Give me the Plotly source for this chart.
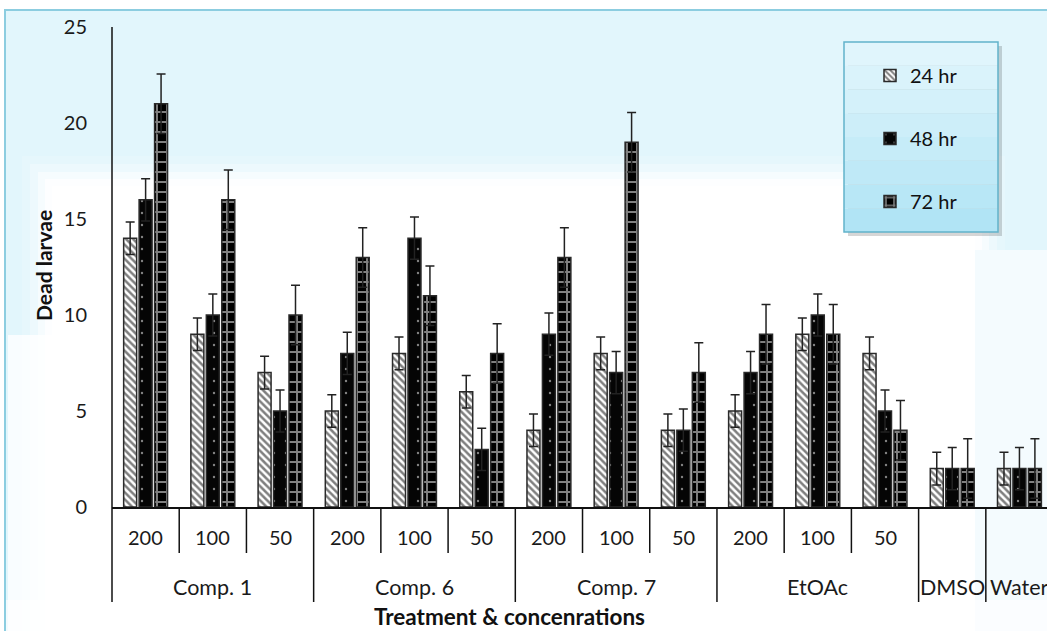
import plotly.graph_objects as go

# ---------------- data ----------------
categories = ["Comp. 1 200", "Comp. 1 100", "Comp. 1 50",
              "Comp. 6 200", "Comp. 6 100", "Comp. 6 50",
              "Comp. 7 200", "Comp. 7 100", "Comp. 7 50",
              "EtOAc 200", "EtOAc 100", "EtOAc 50",
              "DMSO", "Water"]
conc_labels = ["200", "100", "50", "200", "100", "50",
               "200", "100", "50", "200", "100", "50", "", ""]
group_labels = ["Comp. 1", "Comp. 6", "Comp. 7", "EtOAc", "DMSO", "Water"]
group_sizes = [3, 3, 3, 3, 1, 1]

series_names = ["24 hr", "48 hr", "72 hr"]
hr24 = [14, 9, 7, 5, 8, 6, 4, 8, 4, 5, 9, 8, 2, 2]
hr48 = [16, 10, 5, 8, 14, 3, 9, 7, 4, 7, 10, 5, 2, 2]
hr72 = [21, 16, 10, 13, 11, 8, 13, 19, 7, 9, 9, 4, 2, 2]
err24 = [0.85, 0.85, 0.85, 0.85, 0.85, 0.85, 0.85, 0.85, 0.85, 0.85, 0.85, 0.85, 0.85, 0.85]
err48 = [1.1, 1.1, 1.1, 1.1, 1.1, 1.1, 1.1, 1.1, 1.1, 1.1, 1.1, 1.1, 1.1, 1.1]
err72 = [1.55, 1.55, 1.55, 1.55, 1.55, 1.55, 1.55, 1.55, 1.55, 1.55, 1.55, 1.55, 1.55, 1.55]

y_ticks = [0, 5, 10, 15, 20, 25]
x_title = "Treatment & concenrations"
y_title = "Dead larvae"

# ---------------- layout geometry (pixels) ----------------
W, H = 1047, 631
L, T = 112, 27
PLOT_W, PLOT_H = W - L, 480
B = H - T - PLOT_H
FONT = "Lato, Calibri, Carlito, sans-serif"


def px(xp):
    return (xp - L) / PLOT_W


def py(yp):
    return (T + PLOT_H - yp) / PLOT_H


fig = go.Figure()

patterns = [
    dict(shape="\\", fgcolor="#000000", bgcolor="white", size=5, solidity=0.5),
    dict(shape=".", fgcolor="white", bgcolor="#050505", size=12, solidity=0.03),
    dict(shape="+", fgcolor="white", bgcolor="#000000", size=10, solidity=0.35),
]
for name, vals, errs, pat in zip(series_names, [hr24, hr48, hr72],
                                 [err24, err48, err72], patterns):
    fig.add_trace(go.Bar(
        x=categories, y=vals, name=name, legendgroup=name,
        marker=dict(pattern=pat, line=dict(color="#2a2a2a", width=1.5)),
        error_y=dict(type="data", array=errs, symmetric=True,
                     color="#222222", thickness=1.5, width=4.5),
    ))

shapes = []
# background frame
shapes.append(dict(type="rect", xref="paper", yref="paper", layer="below",
                   x0=px(5), x1=px(1060), y0=py(10), y1=py(650),
                   fillcolor="#e2f6fc", line=dict(color="#8ccde0", width=2)))
# soft white glow region
for inset, op in [(-30, 0.15), (-22, 0.3), (-14, 0.5), (-7, 0.75), (0, 1.0)]:
    shapes.append(dict(type="rect", xref="paper", yref="paper", layer="below",
                       x0=px(52 + inset), x1=px(975 - inset), y0=py(186 + inset), y1=py(640),
                       fillcolor="white", opacity=op, line=dict(width=0)))
shapes.append(dict(type="rect", xref="paper", yref="paper", layer="below",
                   x0=px(8), x1=px(52), y0=py(335), y1=py(640),
                   fillcolor="white", opacity=0.8, line=dict(width=0)))
shapes.append(dict(type="rect", xref="paper", yref="paper", layer="below",
                   x0=px(975), x1=px(1060), y0=py(250), y1=py(640),
                   fillcolor="#f4fbfe", line=dict(width=0)))
shapes.append(dict(type="rect", xref="paper", yref="paper", layer="below",
                   x0=px(6), x1=px(1060), y0=py(600), y1=py(650),
                   fillcolor="white", opacity=0.6, line=dict(width=0)))

# y axis line (extends below the plot)
shapes.append(dict(type="line", xref="paper", yref="paper",
                   x0=0, x1=0, y0=py(602), y1=1,
                   line=dict(color="#111111", width=1.5)))
# category dividers
pos = -0.5
for size in group_sizes:
    for k in range(1, size):
        shapes.append(dict(type="line", xref="x", yref="paper",
                           x0=pos + k, x1=pos + k, y0=0, y1=py(553),
                           line=dict(color="#111111", width=1.5)))
    pos += size
    shapes.append(dict(type="line", xref="x", yref="paper",
                       x0=pos, x1=pos, y0=0, y1=py(602),
                       line=dict(color="#111111", width=1.5)))

# legend box
LX0, LY0, LX1, LY1 = 844, 42, 998, 232
shapes.append(dict(type="rect", xref="paper", yref="paper",
                   x0=px(LX0 + 4), x1=px(LX1 + 4), y0=py(LY0 + 4), y1=py(LY1 + 4),
                   fillcolor="rgba(0,0,0,0.16)", line=dict(width=0)))
band_cols = ["#e0f5fc", "#daf3fb", "#d4f1fa", "#cdeef9", "#c6ecf8",
             "#bfe9f7", "#b8e7f6", "#b1e4f5"]
nb = len(band_cols)
for i, c in enumerate(band_cols):
    shapes.append(dict(type="rect", xref="paper", yref="paper",
                       x0=px(LX0), x1=px(LX1),
                       y0=py(LY0 + (LY1 - LY0) * i / nb),
                       y1=py(LY0 + (LY1 - LY0) * (i + 1) / nb),
                       fillcolor=c, line=dict(width=0)))
shapes.append(dict(type="rect", xref="paper", yref="paper",
                   x0=px(LX0), x1=px(LX1), y0=py(LY0), y1=py(LY1),
                   fillcolor="rgba(0,0,0,0)", line=dict(color="#62b3ca", width=1.5)))

annotations = []
for i, lab in enumerate(conc_labels):
    if lab:
        annotations.append(dict(x=i, y=py(537), xref="x", yref="paper", text=lab,
                                showarrow=False, font=dict(family=FONT, size=20, color="#1a1a1a"),
                                xanchor="center", yanchor="middle"))
pos = -0.5
for lab, size in zip(group_labels, group_sizes):
    annotations.append(dict(x=pos + size / 2, y=py(587), xref="x", yref="paper", text=lab,
                            showarrow=False, font=dict(family=FONT, size=21.5, color="#1a1a1a"),
                            xanchor="center", yanchor="middle"))
    pos += size
annotations.append(dict(x=px(509), y=py(616), xref="paper", yref="paper",
                        text="<b>" + x_title + "</b>", showarrow=False,
                        font=dict(family=FONT, size=22.5, color="#111111"),
                        xanchor="center", yanchor="middle"))
annotations.append(dict(x=px(43), y=py(266), xref="paper", yref="paper",
                        text="<b>" + y_title + "</b>", showarrow=False, textangle=-90,
                        font=dict(family=FONT, size=21, color="#111111"),
                        xanchor="center", yanchor="middle"))

fig.update_layout(
    width=W, height=H,
    margin=dict(l=L, r=0, t=T, b=B, pad=0),
    paper_bgcolor="white", plot_bgcolor="rgba(0,0,0,0)",
    barmode="group", bargap=0.31, bargroupgap=0.16,
    font=dict(family=FONT, size=20, color="#1a1a1a"),
    shapes=shapes, annotations=annotations,
    legend=dict(x=px(870), y=py(56), xanchor="left", yanchor="top",
                bgcolor="rgba(0,0,0,0)", borderwidth=0,
                font=dict(family=FONT, size=20, color="#111111"),
                tracegroupgap=34, itemwidth=30),
    showlegend=True,
)
fig.update_xaxes(type="category", range=[-0.5, 13.41], showline=True,
                 linecolor="#111111", linewidth=1.5, showticklabels=False,
                 ticks="", showgrid=False, zeroline=False, fixedrange=True)
fig.update_yaxes(range=[0, 25], tickvals=y_ticks, showgrid=False, zeroline=False,
                 showline=False, ticks="", ticklabelstandoff=24,
                 tickfont=dict(family=FONT, size=20, color="#1a1a1a"))

fig.write_html("out.html", config={"displayModeBar": False},
               post_script="document.body.style.margin='0';document.body.style.overflow='hidden';")
